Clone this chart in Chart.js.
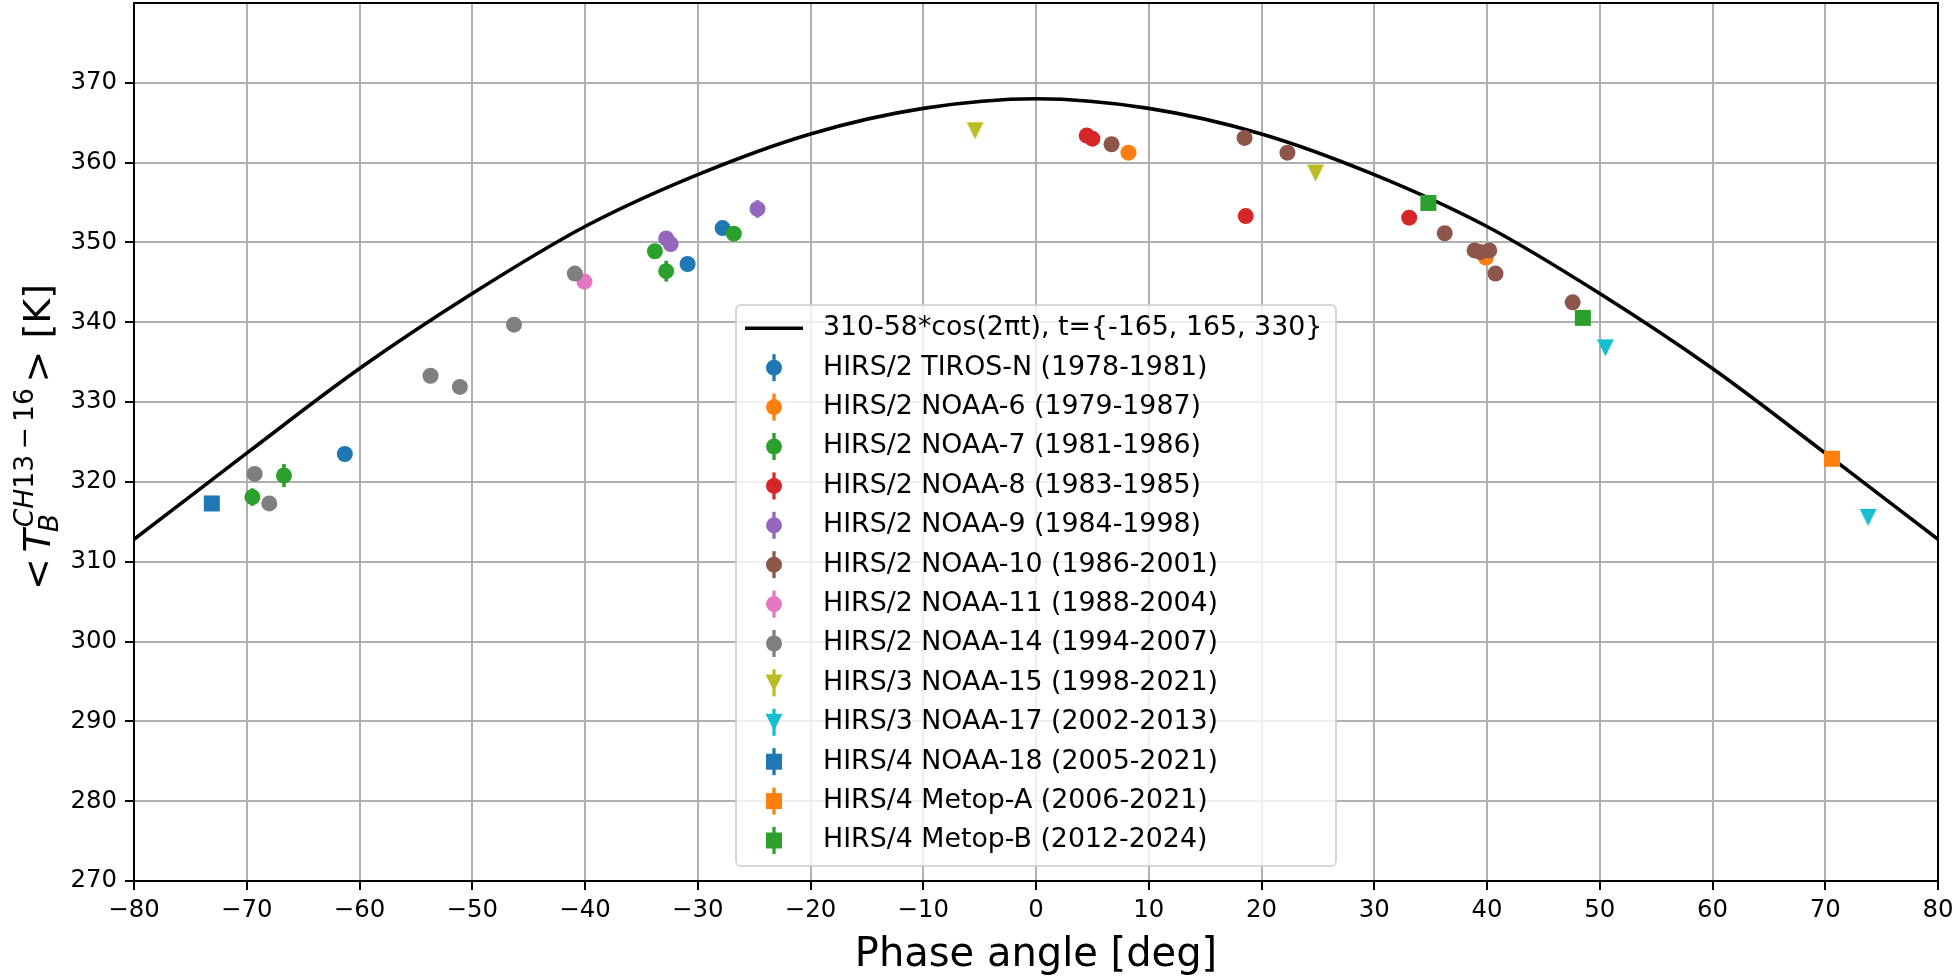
<!DOCTYPE html>
<html>
<head>
<meta charset="utf-8">
<script src="https://cdn.jsdelivr.net/npm/chart.js@4/dist/chart.umd.min.js"></script>
<style>
html,body{margin:0;padding:0;background:#ffffff;}
#wrap{width:1954px;height:976px;position:relative;}
canvas{display:block;}
</style>
</head>
<body>
<div id="wrap"><canvas id="c" width="1954" height="976"></canvas></div>
<script>
// ---------------- data ----------------
const xTickValues = [-80,-70,-60,-50,-40,-30,-20,-10,0,10,20,30,40,50,60,70,80];
const yTickValues = [270,280,290,300,310,320,330,340,350,360,370];

const curveLabel = '310-58*cos(2\u03c0t), t={-165, 165, 330}';
const curvePhase = [-80,-70,-60,-50,-40,-30,-20,-10,0,10,20,30,40,50,60,70,80];
const curveTb    = [312.8,323.6,334.2,343.6,352.0,358.5,363.6,366.8,368.0,366.8,363.6,358.5,352.0,343.6,334.2,323.6,312.8];

const seriesLabels = [
  'HIRS/2 TIROS-N (1978-1981)',
  'HIRS/2 NOAA-6 (1979-1987)',
  'HIRS/2 NOAA-7 (1981-1986)',
  'HIRS/2 NOAA-8 (1983-1985)',
  'HIRS/2 NOAA-9 (1984-1998)',
  'HIRS/2 NOAA-10 (1986-2001)',
  'HIRS/2 NOAA-11 (1988-2004)',
  'HIRS/2 NOAA-14 (1994-2007)',
  'HIRS/3 NOAA-15 (1998-2021)',
  'HIRS/3 NOAA-17 (2002-2013)',
  'HIRS/4 NOAA-18 (2005-2021)',
  'HIRS/4 Metop-A (2006-2021)',
  'HIRS/4 Metop-B (2012-2024)'
];

const phaseTirosN = [-61.3, -30.9, -27.8];
const tbTirosN    = [323.5, 347.3, 351.8];
const errTirosN   = [0.6, 0.6, 0.6];

const phaseNoaa6 = [8.2, 39.9];
const tbNoaa6    = [361.25, 348.1];
const errNoaa6   = [0.6, 0.6];

const phaseNoaa7 = [-69.5, -66.7, -33.8, -32.8, -26.8];
const tbNoaa7    = [318.1, 320.8, 348.9, 346.4, 351.1];
const errNoaa7   = [1.1, 1.45, 0.6, 1.3, 0.6];

const phaseNoaa8 = [4.5, 5.0, 18.6, 33.1];
const tbNoaa8    = [363.4, 363.0, 353.3, 353.1];
const errNoaa8   = [0.6, 0.6, 0.6, 0.6];

const phaseNoaa9 = [-32.8, -32.4, -24.7];
const tbNoaa9    = [350.5, 349.8, 354.2];
const errNoaa9   = [0.6, 0.6, 1.1];

const phaseNoaa10 = [6.7, 18.5, 22.3, 36.25, 38.9, 39.4, 40.2, 40.75, 47.6];
const tbNoaa10    = [362.3, 363.1, 361.25, 351.15, 349.0, 348.8, 349.0, 346.1, 342.5];
const errNoaa10   = [0.6, 0.6, 0.6, 0.6, 0.6, 0.6, 0.6, 0.6, 0.6];

const phaseNoaa11 = [-40.05];
const tbNoaa11    = [345.1];
const errNoaa11   = [0.6];

const phaseNoaa14 = [-69.3, -68.0, -53.7, -51.1, -46.3, -40.9];
const tbNoaa14    = [321.0, 317.3, 333.3, 331.9, 339.7, 346.1];
const errNoaa14   = [0.6, 0.6, 0.6, 0.6, 0.6, 0.6];

const phaseNoaa15 = [-5.4, 24.8];
const tbNoaa15    = [364.0, 358.7];
const errNoaa15   = [0.6, 0.6];

const phaseNoaa17 = [50.5, 73.8];
const tbNoaa17    = [336.8, 315.55];
const errNoaa17   = [0.6, 0.6];

const phaseNoaa18 = [-73.1];
const tbNoaa18    = [317.3];
const errNoaa18   = [0.6];

const phaseMetopA = [70.6];
const tbMetopA    = [322.9];
const errMetopA   = [0.6];

const phaseMetopB = [34.8, 48.5];
const tbMetopB    = [354.95, 340.55];
const errMetopB   = [0.6, 0.6];

// ---------------- styling ----------------
const FAM = "'DejaVu Sans'";
const C = {blue:'#1f77b4', orange:'#ff7f0e', green:'#2ca02c', red:'#d62728', purple:'#9467bd',
           brown:'#8c564b', pink:'#e377c2', gray:'#7f7f7f', olive:'#bcbd22', cyan:'#17becf'};
const CIRCLE_R = 8;
const SQUARE_SIDE = 16;
const TRI_SIZE = 17;
const ERR_W = 3.6;

function triCanvas(color) {
  const s = TRI_SIZE + 2;
  const c = document.createElement('canvas');
  c.width = s; c.height = s;
  const g = c.getContext('2d');
  g.fillStyle = color;
  g.beginPath();
  g.moveTo(1, 1); g.lineTo(s - 1, 1); g.lineTo(s / 2, s - 1); g.closePath();
  g.fill();
  return c;
}

const seriesDefs = [
  {x: phaseTirosN, y: tbTirosN, e: errTirosN, color: C.blue,   marker: 'o'},
  {x: phaseNoaa6,  y: tbNoaa6,  e: errNoaa6,  color: C.orange, marker: 'o'},
  {x: phaseNoaa7,  y: tbNoaa7,  e: errNoaa7,  color: C.green,  marker: 'o'},
  {x: phaseNoaa8,  y: tbNoaa8,  e: errNoaa8,  color: C.red,    marker: 'o'},
  {x: phaseNoaa9,  y: tbNoaa9,  e: errNoaa9,  color: C.purple, marker: 'o'},
  {x: phaseNoaa10, y: tbNoaa10, e: errNoaa10, color: C.brown,  marker: 'o'},
  {x: phaseNoaa11, y: tbNoaa11, e: errNoaa11, color: C.pink,   marker: 'o'},
  {x: phaseNoaa14, y: tbNoaa14, e: errNoaa14, color: C.gray,   marker: 'o'},
  {x: phaseNoaa15, y: tbNoaa15, e: errNoaa15, color: C.olive,  marker: 'v'},
  {x: phaseNoaa17, y: tbNoaa17, e: errNoaa17, color: C.cyan,   marker: 'v'},
  {x: phaseNoaa18, y: tbNoaa18, e: errNoaa18, color: C.blue,   marker: 's'},
  {x: phaseMetopA, y: tbMetopA, e: errMetopA, color: C.orange, marker: 's'},
  {x: phaseMetopB, y: tbMetopB, e: errMetopB, color: C.green,  marker: 's'}
];

const datasets = [];
datasets.push({
  label: curveLabel,
  data: curvePhase.map((p, i) => ({x: p, y: curveTb[i]})),
  showLine: true,
  borderColor: '#000000',
  backgroundColor: '#000000',
  borderWidth: 3.6,
  pointRadius: 0,
  cubicInterpolationMode: 'monotone',
  fill: false,
  order: 100
});
seriesDefs.forEach((s, i) => {
  const ds = {
    label: seriesLabels[i],
    data: s.x.map((p, j) => ({x: p, y: s.y[j]})),
    errY: s.e,
    errColor: s.color,
    showLine: false,
    backgroundColor: s.color,
    borderColor: s.color,
    borderWidth: 0,
    order: 99 - i
  };
  if (s.marker === 'o') { ds.pointStyle = 'circle'; ds.pointRadius = CIRCLE_R; }
  else if (s.marker === 's') { ds.pointStyle = 'rect'; ds.pointRadius = SQUARE_SIDE / Math.SQRT2; }
  else { ds.pointStyle = triCanvas(s.color); ds.pointRadius = TRI_SIZE / 2; }
  datasets.push(ds);
});

// ---------------- plugins ----------------
const errorBarPlugin = {
  id: 'errorBars',
  beforeDatasetDraw(chart, args) {
    const ds = chart.data.datasets[args.index];
    if (!ds.errY) return;
    const xs = chart.scales.x, ys = chart.scales.y, ctx = chart.ctx;
    ctx.save();
    ctx.strokeStyle = ds.errColor;
    ctx.lineWidth = ERR_W;
    ds.data.forEach((pt, j) => {
      const e = ds.errY[j];
      const px = xs.getPixelForValue(pt.x);
      ctx.beginPath();
      ctx.moveTo(px, ys.getPixelForValue(pt.y - e));
      ctx.lineTo(px, ys.getPixelForValue(pt.y + e));
      ctx.stroke();
    });
    ctx.restore();
  }
};

const framePlugin = {
  id: 'frame',
  afterDatasetsDraw(chart) {
    const a = chart.chartArea, ctx = chart.ctx;
    ctx.save();
    ctx.strokeStyle = '#000';
    ctx.lineWidth = 2;
    ctx.strokeRect(a.left, a.top, a.right - a.left, a.bottom - a.top);
    ctx.restore();
  }
};

function roundRect(ctx, x, y, w, h, r) {
  ctx.beginPath();
  ctx.moveTo(x + r, y);
  ctx.lineTo(x + w - r, y); ctx.arcTo(x + w, y, x + w, y + r, r);
  ctx.lineTo(x + w, y + h - r); ctx.arcTo(x + w, y + h, x + w - r, y + h, r);
  ctx.lineTo(x + r, y + h); ctx.arcTo(x, y + h, x, y + h - r, r);
  ctx.lineTo(x, y + r); ctx.arcTo(x, y, x + r, y, r);
  ctx.closePath();
}

const legendPlugin = {
  id: 'mplLegend',
  afterDraw(chart) {
    const ctx = chart.ctx;
    const L = {left: 736, top: 305, right: 1336, bottom: 866, row0: 328.3, step: 39.4,
               hx0: 745, hx1: 803, hc: 774, tx: 823, fs: 26.8};
    ctx.save();
    roundRect(ctx, L.left, L.top, L.right - L.left, L.bottom - L.top, 5);
    ctx.fillStyle = 'rgba(255,255,255,0.8)';
    ctx.fill();
    ctx.strokeStyle = 'rgba(204,204,204,0.8)';
    ctx.lineWidth = 2;
    ctx.stroke();
    ctx.font = L.fs + 'px ' + FAM;
    ctx.textBaseline = 'middle';
    ctx.textAlign = 'left';
    chart.data.datasets.forEach((ds, i) => {
      const y = L.row0 + i * L.step;
      if (i === 0) {
        ctx.strokeStyle = '#000';
        ctx.lineWidth = 3.6;
        ctx.beginPath(); ctx.moveTo(L.hx0, y); ctx.lineTo(L.hx1, y); ctx.stroke();
      } else {
        const s = seriesDefs[i - 1];
        ctx.strokeStyle = s.color;
        ctx.lineWidth = 3.3;
        ctx.beginPath(); ctx.moveTo(L.hc, y - 13.5); ctx.lineTo(L.hc, y + 13.5); ctx.stroke();
        ctx.fillStyle = s.color;
        if (s.marker === 'o') {
          ctx.beginPath(); ctx.arc(L.hc, y, CIRCLE_R, 0, Math.PI * 2); ctx.fill();
        } else if (s.marker === 's') {
          ctx.fillRect(L.hc - SQUARE_SIDE / 2, y - SQUARE_SIDE / 2, SQUARE_SIDE, SQUARE_SIDE);
        } else {
          const h = TRI_SIZE / 2;
          ctx.beginPath(); ctx.moveTo(L.hc - h, y - h); ctx.lineTo(L.hc + h, y - h); ctx.lineTo(L.hc, y + h); ctx.closePath(); ctx.fill();
        }
      }
      ctx.fillStyle = '#000';
      ctx.fillText(ds.label, L.tx, y);
    });
    ctx.restore();
  }
};

const yTitlePlugin = {
  id: 'yTitle',
  afterDraw(chart) {
    const ctx = chart.ctx;
    const fs = 38, ss = fs * 0.7;
    const cx = 50, cy = 437;   // cx = baseline screen x
    const fN = fs + 'px ' + FAM, fI = 'italic ' + fs + 'px ' + FAM;
    const sN = ss + 'px ' + FAM, sI = 'italic ' + ss + 'px ' + FAM;
    const W = (t, f) => { ctx.font = f; return ctx.measureText(t).width; };
    const sp = 0.15 * fs;
    const supNum = '13\u2009\u2212\u200916';
    const wLt = W('<', fN), wT = W('T', fI);
    const wCH = W('CH', sI), w13 = W(supNum, sN), wB = W('B', sI);
    const wScript = Math.max(wCH + w13 + 2, wB);
    const wGt = W('>', fN), wK = W(' [K]', fN);
    const total = wLt + sp + wT + wScript + sp + wGt + wK;
    ctx.save();
    ctx.translate(cx, cy);
    ctx.rotate(-Math.PI / 2);
    ctx.fillStyle = '#000';
    ctx.textBaseline = 'alphabetic';
    ctx.textAlign = 'left';
    let x = -total / 2;
    ctx.font = fN; ctx.fillText('<', x, 0); x += wLt + sp;
    ctx.font = fI; ctx.fillText('T', x, 0); x += wT;
    ctx.font = sI; ctx.fillText('CH', x + 2, -0.45 * fs);
    ctx.font = sN; ctx.fillText(supNum, x + 2 + wCH, -0.45 * fs);
    ctx.font = sI; ctx.fillText('B', x - 3, 0.22 * fs);
    x += wScript + sp;
    ctx.font = fN; ctx.fillText('>', x, 0); x += wGt;
    ctx.fillText(' [K]', x, 0);
    ctx.restore();
  }
};

// ---------------- chart ----------------
const fmt = v => (v < 0 ? '\u2212' + Math.abs(v) : String(v));

new Chart(document.getElementById('c'), {
  type: 'scatter',
  data: {datasets},
  options: {
    responsive: false,
    animation: false,
    events: [],
    layout: {autoPadding: false, padding: {left: 0, right: 16, top: 3, bottom: 0}},
    plugins: {legend: {display: false}, tooltip: {enabled: false}},
    scales: {
      x: {
        type: 'linear', min: -80, max: 80,
        afterBuildTicks: s => { s.ticks = xTickValues.map(v => ({value: v})); },
        afterFit: s => { s.height = 95; s.paddingLeft = 0; s.paddingRight = 0; },
        border: {display: false},
        grid: {color: '#b0b0b0', lineWidth: 2, tickColor: '#000', tickWidth: 2, tickLength: 9},
        ticks: {font: {family: FAM, size: 24.4}, color: '#000', padding: 6, maxRotation: 0, autoSkip: false, callback: v => fmt(v)},
        title: {display: true, text: 'Phase angle [deg]', font: {family: FAM, size: 40, lineHeight: 1.0}, color: '#000', padding: 0}
      },
      y: {
        type: 'linear', min: 270, max: 380,
        afterBuildTicks: s => { s.ticks = yTickValues.map(v => ({value: v})); },
        afterFit: s => { s.width = 134; s.paddingTop = 0; s.paddingBottom = 0; },
        border: {display: false},
        grid: {color: '#b0b0b0', lineWidth: 2, tickColor: '#000', tickWidth: 2, tickLength: 9},
        ticks: {font: {family: FAM, size: 24.4}, color: '#000', padding: 8, autoSkip: false, callback: v => fmt(v)}
      }
    }
  },
  plugins: [errorBarPlugin, framePlugin, legendPlugin, yTitlePlugin]
});
</script>
</body>
</html>
